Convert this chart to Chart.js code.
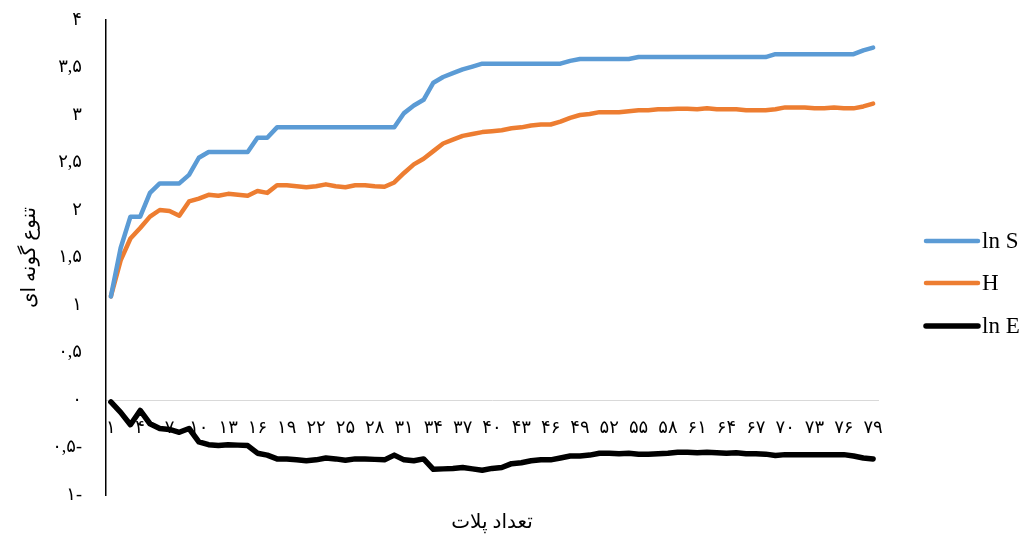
<!DOCTYPE html>
<html>
<head>
<meta charset="utf-8">
<script src="https://cdn.jsdelivr.net/npm/chart.js@4.4.1/dist/chart.umd.min.js"></script>
<style>
  html, body { margin: 0; padding: 0; background: #fff; }
  #wrap { width: 1023px; height: 534px; }
</style>
</head>
<body>
<div id="wrap"><canvas id="chart"></canvas></div>
<script>
  // plot numbers (categories)
  const plotNumbers = [1, 2, 3, 4, 5, 6, 7, 8, 9, 10, 11, 12, 13, 14, 15, 16, 17, 18, 19, 20,
    21, 22, 23, 24, 25, 26, 27, 28, 29, 30, 31, 32, 33, 34, 35, 36, 37, 38, 39, 40,
    41, 42, 43, 44, 45, 46, 47, 48, 49, 50, 51, 52, 53, 54, 55, 56, 57, 58, 59, 60,
    61, 62, 63, 64, 65, 66, 67, 68, 69, 70, 71, 72, 73, 74, 75, 76, 77, 78, 79];

  const lnS = [1.09, 1.60, 1.93, 1.93, 2.18, 2.28, 2.28, 2.28, 2.37, 2.55,
    2.61, 2.61, 2.61, 2.61, 2.61, 2.76, 2.76, 2.87, 2.87, 2.87,
    2.87, 2.87, 2.87, 2.87, 2.87, 2.87, 2.87, 2.87, 2.87, 2.87,
    3.02, 3.10, 3.16, 3.34, 3.40, 3.44, 3.48, 3.51, 3.54, 3.54,
    3.54, 3.54, 3.54, 3.54, 3.54, 3.54, 3.54, 3.57, 3.59, 3.59,
    3.59, 3.59, 3.59, 3.59, 3.61, 3.61, 3.61, 3.61, 3.61, 3.61,
    3.61, 3.61, 3.61, 3.61, 3.61, 3.61, 3.61, 3.61, 3.64, 3.64,
    3.64, 3.64, 3.64, 3.64, 3.64, 3.64, 3.64, 3.68, 3.71];

  const H = [1.09, 1.47, 1.70, 1.81, 1.93, 2.00, 1.99, 1.94, 2.09, 2.12,
    2.16, 2.15, 2.17, 2.16, 2.15, 2.20, 2.18, 2.26, 2.26, 2.25,
    2.24, 2.25, 2.27, 2.25, 2.24, 2.26, 2.26, 2.25, 2.245, 2.29,
    2.39, 2.48, 2.54, 2.62, 2.70, 2.74, 2.78, 2.80, 2.82, 2.83,
    2.84, 2.86, 2.87, 2.89, 2.90, 2.90, 2.93, 2.97, 3.00, 3.01,
    3.03, 3.03, 3.03, 3.04, 3.05, 3.05, 3.06, 3.06, 3.065, 3.065,
    3.06, 3.07, 3.06, 3.06, 3.06, 3.05, 3.05, 3.05, 3.06, 3.08,
    3.08, 3.08, 3.07, 3.07, 3.08, 3.07, 3.07, 3.09, 3.12];

  const lnE = [-0.02, -0.13, -0.26, -0.11, -0.25, -0.30, -0.31, -0.34, -0.30, -0.44,
    -0.47, -0.48, -0.47, -0.475, -0.48, -0.56, -0.58, -0.62, -0.62, -0.63,
    -0.64, -0.63, -0.61, -0.62, -0.635, -0.62, -0.62, -0.625, -0.63, -0.58,
    -0.63, -0.64, -0.62, -0.73, -0.725, -0.72, -0.71, -0.725, -0.74, -0.72,
    -0.71, -0.67, -0.66, -0.64, -0.63, -0.63, -0.61, -0.59, -0.59, -0.58,
    -0.56, -0.56, -0.565, -0.56, -0.57, -0.57, -0.565, -0.56, -0.55, -0.55,
    -0.555, -0.55, -0.555, -0.56, -0.555, -0.565, -0.565, -0.57, -0.585, -0.575,
    -0.575, -0.575, -0.575, -0.575, -0.575, -0.575, -0.59, -0.61, -0.62];

  const yTickLabels = ['۱-', '۰,۵-', '۰', '۰,۵', '۱', '۱,۵', '۲', '۲,۵', '۳', '۳,۵', '۴'];

  const faDigits = '۰۱۲۳۴۵۶۷۸۹';
  const toFa = n => String(n).replace(/\d/g, d => faDigits[d]);
  const labels = plotNumbers.map(toFa);

  const serif = '"Liberation Serif", "DejaVu Sans", serif';

  // legend drawn to the right of the plot, like the original
  const sideLegend = {
    id: 'sideLegend',
    afterDraw(chart) {
      const ctx = chart.ctx;
      const rows = [241, 283, 326];
      ctx.save();
      chart.data.datasets.forEach((ds, i) => {
        const y = rows[i];
        ctx.strokeStyle = ds.borderColor;
        ctx.lineWidth = ds.borderWidth;
        ctx.lineCap = 'round';
        ctx.beginPath();
        ctx.moveTo(926, y);
        ctx.lineTo(978, y);
        ctx.stroke();
        ctx.fillStyle = '#000';
        ctx.font = '23px ' + serif;
        ctx.textBaseline = 'middle';
        ctx.textAlign = 'left';
        ctx.fillText(ds.label, 982, y + 1);
      });
      ctx.restore();
    },
  };

  new Chart(document.getElementById('chart'), {
    type: 'line',
    data: {
      labels,
      datasets: [
        { label: 'ln S', data: lnS, borderColor: '#5B9BD5', borderWidth: 4.5 },
        { label: 'H', data: H, borderColor: '#ED7D31', borderWidth: 4.5 },
        { label: 'ln E', data: lnE, borderColor: '#000000', borderWidth: 5.5 },
      ],
    },
    options: {
      responsive: true,
      maintainAspectRatio: false,
      animation: false,
      layout: { padding: { top: 20, right: 145, left: 0, bottom: 0 } },
      elements: {
        point: { radius: 0 },
        line: { tension: 0, borderJoinStyle: 'round', borderCapStyle: 'round', fill: false },
      },
      plugins: { legend: { display: false }, tooltip: { enabled: false } },
      scales: {
        x: {
          type: 'category',
          position: { y: 0 },
          offset: true,
          grid: { display: false, drawTicks: false },
          border: { display: true, color: '#d9d9d9', width: 1 },
          ticks: {
            autoSkip: false,
            maxRotation: 0,
            padding: 17,
            color: '#000',
            font: { family: serif, size: 18 },
            callback: (v, i) => (i % 3 === 0 ? labels[i] : ''),
          },
          afterFit: s => { s.height = 0; },
        },
        xTitle: {
          type: 'category',
          position: 'bottom',
          labels,
          grid: { display: false, drawTicks: false },
          border: { display: false },
          ticks: { display: false },
          title: {
            display: true,
            text: 'تعداد پلات',
            color: '#000',
            font: { family: serif, size: 20, lineHeight: 1.1 },
            padding: { top: 0, bottom: 0 },
          },
          afterFit: s => { s.height = 39; },
        },
        y: {
          min: -1,
          max: 4,
          position: 'left',
          grid: { display: false, drawTicks: false },
          border: { display: true, color: '#000', width: 1.5 },
          ticks: {
            stepSize: 0.5,
            padding: 24,
            color: '#000',
            font: { family: serif, size: 18 },
            callback: (v, i) => yTickLabels[i],
          },
          title: {
            display: true,
            text: 'تنوع گونه ای',
            color: '#000',
            font: { family: serif, size: 20, lineHeight: 1.2 },
            padding: { top: 18, bottom: 0 },
          },
          afterFit: s => { s.width = 106; s.paddingTop = 0; s.paddingBottom = 0; },
        },
      },
    },
    plugins: [sideLegend],
  });
</script>
</body>
</html>
